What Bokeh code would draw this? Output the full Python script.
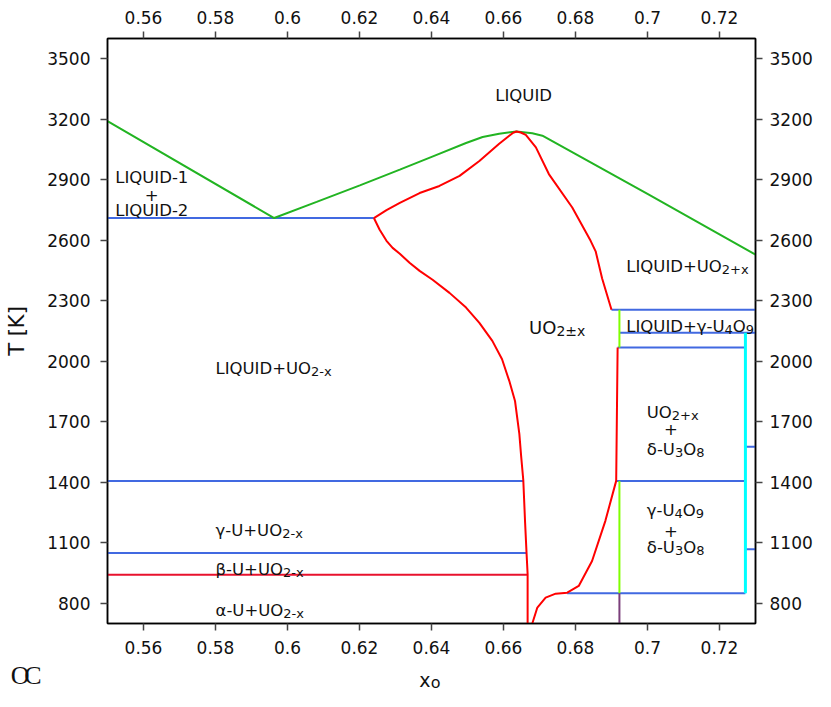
from bokeh.plotting import figure
from bokeh.models import (ColumnDataSource, LinearAxis, FixedTicker,
                          CustomJSTickFormatter, Range1d)
from bokeh.layouts import column
from bokeh.core.properties import value
from bokeh.embed import file_html
from bokeh.resources import INLINE

# ---------------- data ----------------
x_ticks = [0.56, 0.58, 0.6, 0.62, 0.64, 0.66, 0.68, 0.7, 0.72]
T_ticks = [800, 1100, 1400, 1700, 2000, 2300, 2600, 2900, 3200, 3500]

# liquidus (green)
liq_x = [0.55, 0.5963, 0.6081, 0.6201, 0.6312, 0.6404, 0.6496, 0.6542, 0.6588,
         0.6636, 0.668, 0.6708, 0.70, 0.73]
liq_T = [3190, 2710, 2790, 2872, 2950, 3016, 3082, 3112, 3128,
         3139, 3130, 3118, 2830, 2529]

# UO2 solidus (red, upper)
sol_x = [0.624, 0.6275, 0.6312, 0.6367, 0.6422, 0.6478, 0.6533, 0.6588, 0.6616,
         0.6627, 0.6636, 0.6648, 0.6662, 0.669, 0.6726, 0.6791, 0.6842, 0.6856,
         0.6874, 0.69]
sol_T = [2710, 2749, 2785, 2834, 2869, 2919, 2993, 3078, 3118,
         3133, 3139, 3134, 3122, 3060, 2928, 2762, 2597, 2545,
         2410, 2255]

# UO2-x boundary (red, lower left)
hypo_x = [0.624, 0.6256, 0.6275, 0.6292, 0.6312, 0.6339, 0.6367, 0.6403, 0.645,
          0.6496, 0.6533, 0.6569, 0.6596, 0.6616, 0.6632, 0.6644, 0.6649, 0.6655,
          0.666, 0.6664, 0.6667, 0.6667]
hypo_T = [2710, 2652, 2597, 2562, 2533, 2488, 2448, 2404, 2339,
          2266, 2190, 2101, 2010, 1903, 1803, 1640, 1530, 1410,
          1200, 1050, 945, 700]

# UO2+x boundary (red, lower right)
hyper_x = [0.668, 0.6694, 0.6717, 0.6745, 0.6777, 0.6809, 0.6846, 0.6883, 0.6913, 0.6917]
hyper_T = [700, 779, 828, 848, 853, 886, 1010, 1209, 1407, 2068]

# invariant lines (blue)
blue_x0 = [0.55, 0.69, 0.6922, 0.6917, 0.55, 0.6913, 0.55, 0.6777, 0.7272, 0.7272]
blue_x1 = [0.624, 0.73, 0.73, 0.7272, 0.6655, 0.7272, 0.6664, 0.7272, 0.73, 0.73]
blue_T = [2710, 2255, 2141, 2068, 1407, 1407, 1050, 850, 1576, 1068]

# alpha/beta U transition (red horizontal)
ab_x0 = [0.55]
ab_x1 = [0.6667]
ab_T = [942]

# U4O9 composition lines
u4o9_x = [0.6922, 0.6922]
lime_T0 = [850, 2068]
lime_T1 = [1407, 2255]
purple_x = [0.6922]
purple_T0 = [700]
purple_T1 = [850]

# U3O8 line
u3o8_x = [0.7272]
cyan_T0 = [850]
cyan_T1 = [2141]

# ---------------- figure ----------------
FONT = "DejaVu Sans"
TXT = "#111111"
p = figure(width=815, height=662, x_range=(0.55, 0.73), y_range=(700, 3600),
           output_backend="svg", toolbar_location=None,
           min_border_left=107, min_border_right=58, min_border_top=38,
           min_border_bottom=39)
p.xgrid.visible = False
p.ygrid.visible = False
p.outline_line_color = "black"
p.outline_line_width = 1.5
p.background_fill_color = "white"
p.border_fill_color = "white"

bottom_ax = p.below[0]
left_ax = p.left[0]
fmt_js = "return String(Math.round(tick*100)/100);"
bottom_ax.ticker = FixedTicker(ticks=x_ticks)
bottom_ax.formatter = CustomJSTickFormatter(code=fmt_js)
left_ax.ticker = FixedTicker(ticks=T_ticks)
top_ax = LinearAxis(ticker=FixedTicker(ticks=x_ticks),
                    formatter=CustomJSTickFormatter(code=fmt_js))
right_ax = LinearAxis(ticker=FixedTicker(ticks=T_ticks))
p.add_layout(top_ax, "above")
p.add_layout(right_ax, "right")

for ax in [bottom_ax, top_ax, left_ax, right_ax]:
    ax.major_tick_out = 7
    ax.major_tick_in = 0
    ax.minor_tick_out = 0
    ax.minor_tick_in = 0
    ax.axis_line_color = "black"
    ax.axis_line_width = 1.5
    ax.major_tick_line_color = "#444444"
    ax.major_tick_line_width = 1.5
    ax.major_label_text_font = FONT
    ax.major_label_text_font_size = "17px"
    ax.major_label_text_color = TXT
bottom_ax.major_label_standoff = 10
top_ax.major_label_standoff = 8
left_ax.major_label_standoff = 10
right_ax.major_label_standoff = 7
left_ax.axis_label = "T [K]"
left_ax.axis_label_text_font = FONT
left_ax.axis_label_text_font_size = "21px"
left_ax.axis_label_text_font_style = "normal"
left_ax.axis_label_text_color = TXT
left_ax.axis_label_standoff = 15

# ---------------- lines ----------------
BLUE = "#4169e1"
p.segment(x0=blue_x0, x1=blue_x1, y0=blue_T, y1=blue_T, line_color=BLUE, line_width=2)
p.segment(x0=ab_x0, x1=ab_x1, y0=ab_T, y1=ab_T, line_color="#e8112d", line_width=2)
p.segment(x0=u4o9_x, x1=u4o9_x, y0=lime_T0, y1=lime_T1, line_color="#80ff00", line_width=2)
p.segment(x0=purple_x, x1=purple_x, y0=purple_T0, y1=purple_T1,
          line_color="#7b3f7b", line_width=2)
p.segment(x0=u3o8_x, x1=u3o8_x, y0=cyan_T0, y1=cyan_T1, line_color="#00ffff", line_width=3)
p.line(liq_x, liq_T, line_color="#22b422", line_width=2)
p.line(sol_x, sol_T, line_color="#ff0000", line_width=2, line_join="round")
p.line(hypo_x, hypo_T, line_color="#ff0000", line_width=2, line_join="round")
p.line(hyper_x, hyper_T, line_color="#ff0000", line_width=2, line_join="round")

# ---------------- labels ----------------
W = {'L': 0.557, 'I': 0.295, 'Q': 0.787, 'U': 0.732, 'D': 0.770, '+': 0.838,
     'O': 0.787, '-': 0.361, 'x': 0.592, '±': 0.838, 'γ': 0.592, 'δ': 0.613,
     'α': 0.662, 'β': 0.639, ' ': 0.318}
for d in "0123456789":
    W[d] = 0.636


def tw(s, size):
    return sum(W.get(c, 0.6) for c in s) * size


pieces = {"x": [], "y": [], "text": [], "size": [], "xo": [], "yo": []}


def rich(x, y, segs, main=16.5, sub=13.0, align="left", dy=3):
    widths = [tw(t, sub if s else main) for t, s in segs]
    off = -sum(widths) / 2 if align == "center" else 0.0
    for (t, s), w in zip(segs, widths):
        pieces["x"].append(x)
        pieces["y"].append(y)
        pieces["text"].append(t)
        pieces["size"].append(f"{sub if s else main}px")
        pieces["xo"].append(off)
        pieces["yo"].append(dy if s else 0)
        off += w


rich(0.6656, 3316, [("LIQUID", 0)], align="center")
rich(0.5623, 2911, [("LIQUID-1", 0)], align="center")
rich(0.5623, 2824, [("+", 0)], align="center")
rich(0.5623, 2749, [("LIQUID-2", 0)], align="center")
rich(0.58, 1964, [("LIQUID+UO", 0), ("2-x", 1)])
rich(0.6671, 2167, [("UO", 0), ("2±x", 1)], main=18, sub=14)
rich(0.6941, 2468, [("LIQUID+UO", 0), ("2+x", 1)])
rich(0.6941, 2172, [("LIQUID+γ-U", 0), ("4", 1), ("O", 0), ("9", 1)])
rich(0.6998, 1746, [("UO", 0), ("2+x", 1)])
rich(0.7065, 1664, [("+", 0)], align="center")
rich(0.6998, 1564, [("δ-U", 0), ("3", 1), ("O", 0), ("8", 1)])
rich(0.6998, 1258, [("γ-U", 0), ("4", 1), ("O", 0), ("9", 1)])
rich(0.7065, 1159, [("+", 0)], align="center")
rich(0.6998, 1076, [("δ-U", 0), ("3", 1), ("O", 0), ("8", 1)])
rich(0.58, 1163, [("γ-U+UO", 0), ("2-x", 1)])
rich(0.58, 969, [("β-U+UO", 0), ("2-x", 1)])
rich(0.58, 766, [("α-U+UO", 0), ("2-x", 1)])

src = ColumnDataSource(pieces)
p.text(x="x", y="y", text="text", text_font_size="size", x_offset="xo",
       y_offset="yo", source=src, text_font=value(FONT),
       text_baseline="alphabetic", text_align="left", text_color=TXT)

# ---------------- footer strip: x-axis title and corner logo ----------------
FOOT_H = 29
foot = figure(width=815, height=FOOT_H, x_range=Range1d(0.55, 0.73),
              y_range=Range1d(FOOT_H, 0), output_backend="svg",
              toolbar_location=None, x_axis_type=None, y_axis_type=None,
              min_border_left=107, min_border_right=58, min_border_top=0,
              min_border_bottom=0, title=None)
foot.xgrid.visible = False
foot.ygrid.visible = False
foot.outline_line_color = None
foot.background_fill_color = "white"
foot.border_fill_color = "white"
foot.text(x=[0.6366], y=[17], text=["x"], text_font=value(FONT), text_font_size="19px",
          text_baseline="alphabetic", text_color=TXT)
foot.text(x=[0.6398], y=[20], text=["o"], text_font=value(FONT), text_font_size="16px",
          text_baseline="alphabetic", text_color=TXT)

# corner logo "OC" drawn as two overlapping axis labels left of the strip's frame
logo_ticks = [16.5]
for letter, stand in [("C", 66), ("O", -8)]:
    ax = LinearAxis(ticker=FixedTicker(ticks=logo_ticks),
                    formatter=CustomJSTickFormatter(code=f"return '{letter}';"))
    ax.axis_line_color = None
    ax.major_tick_line_color = None
    ax.minor_tick_line_color = None
    ax.major_tick_out = 0
    ax.major_tick_in = 0
    ax.minor_tick_out = 0
    ax.minor_tick_in = 0
    ax.major_label_standoff = stand
    ax.major_label_text_font = "Liberation Serif"
    ax.major_label_text_font_size = "26px"
    ax.major_label_text_color = TXT
    foot.add_layout(ax, "left")

layout = column(p, foot, spacing=0)
open("out.html", "w").write(file_html(layout, INLINE))
